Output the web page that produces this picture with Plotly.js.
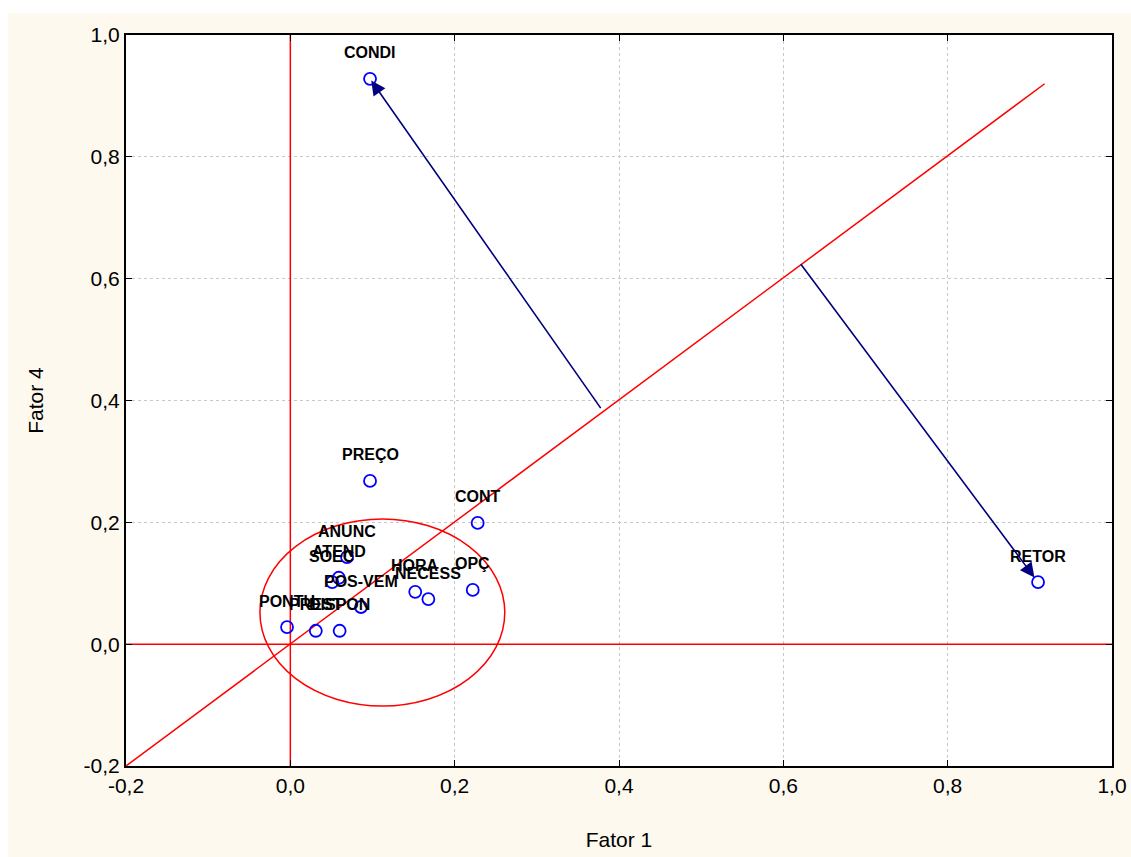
<!DOCTYPE html>
<html>
<head>
<meta charset="utf-8">
<script src="https://cdn.plot.ly/plotly-3.0.1.min.js"></script>
<style>
  html, body { margin: 0; padding: 0; background: #ffffff; }
  #chart { position: absolute; left: 8px; top: 13px; width: 1123px; height: 844px; }
</style>
</head>
<body>
<div id="chart"></div>
<script>
// Variable labels and their loadings (Fator 1, Fator 4)
const labels = ["CONDI", "RETOR", "PREÇO", "CONT", "OPÇ", "HORA", "NECESS",
                "ANUNC", "ATEND", "SOEC", "POS-VEM", "PONTU", "PREST", "DISPON"];
const fator1 = [0.097, 0.910, 0.097, 0.228, 0.222, 0.152, 0.168,
                0.069, 0.059, 0.051, 0.086, -0.004, 0.031, 0.060];
const fator4 = [0.928, 0.102, 0.268, 0.199, 0.089, 0.086, 0.074,
                0.143, 0.109, 0.102, 0.061, 0.028, 0.022, 0.022];

// Tick values and labels
const tickVals = [-0.2, 0.0, 0.2, 0.4, 0.6, 0.8, 1.0];
const tickText = ["-0,2", "0,0", "0,2", "0,4", "0,6", "0,8", "1,0"];

// Reference lines
const diagX = [-0.2, 0.918];
const diagY = [-0.2, 0.920];
const vertX = [0, 0];
const vertY = [-0.2, 1.0];
const horzX = [-0.2, 1.0];
const horzY = [0, 0];

// Ellipse bounds (x0, x1, y0, y1)
const ellipseBox = [-0.037, 0.261, -0.1015, 0.2055];

// Arrows: start on the diagonal, end on a variable
const arrowFromX = [0.379, 0.620];
const arrowFromY = [0.385, 0.626];
const arrowToX = [0.097, 0.907];
const arrowToY = [0.928, 0.107];

const red = "#ff0000";
const navy = "#000080";

const traces = [
  {x: vertX, y: vertY, mode: "lines", line: {color: red, width: 1.5}, hoverinfo: "skip", showlegend: false},
  {x: horzX, y: horzY, mode: "lines", line: {color: red, width: 1.5}, hoverinfo: "skip", showlegend: false},
  {x: diagX, y: diagY, mode: "lines", line: {color: red, width: 1.5}, hoverinfo: "skip", showlegend: false},
  {x: fator1, y: fator4, mode: "markers", text: labels,
   marker: {symbol: "circle-open", size: 12, color: "#0000ff", line: {width: 1.8, color: "#0000ff"}},
   showlegend: false}
];

const annotations = labels.map((t, i) => ({
  x: fator1[i], y: fator4[i], xref: "x", yref: "y", text: "<b>" + t + "</b>",
  showarrow: false, yshift: 26,
  font: {family: "Liberation Sans, Arial, sans-serif", size: 16, color: "#000000"}
}));
for (let i = 0; i < arrowFromX.length; i++) {
  annotations.push({
    x: arrowToX[i], y: arrowToY[i], ax: arrowFromX[i], ay: arrowFromY[i],
    xref: "x", yref: "y", axref: "x", ayref: "y", text: "",
    showarrow: true, arrowhead: 2, arrowsize: 1.8, arrowwidth: 1.6, arrowcolor: navy,
    standoff: 2
  });
}

const tickFont = {family: "Liberation Sans Narrow, Arial Narrow, Arial, sans-serif", size: 21, color: "#000000"};
const titleFont = {family: "Liberation Sans Narrow, Arial Narrow, Arial, sans-serif", size: 21, color: "#000000"};
const axisCommon = {
  range: [-0.2, 1.0], tickmode: "array", tickvals: tickVals, ticktext: tickText,
  showline: true, linecolor: "#000000", linewidth: 2, mirror: "ticks",
  ticks: "inside", ticklen: 6, tickwidth: 1, tickcolor: "#000000",
  showgrid: true, gridcolor: "#c8c8c8", griddash: "dot", gridwidth: 1,
  zeroline: false, tickfont: tickFont
};

const layout = {
  width: 1123, height: 844,
  margin: {l: 118, r: 19, t: 22, b: 91},
  paper_bgcolor: "#fdf9ee", plot_bgcolor: "#ffffff",
  xaxis: Object.assign({}, axisCommon, {
    title: {text: "Fator 1", font: titleFont, standoff: 36}
  }),
  yaxis: Object.assign({}, axisCommon, {
    title: {text: "Fator 4", font: titleFont, standoff: 34}
  }),
  shapes: [{
    type: "circle", xref: "x", yref: "y",
    x0: ellipseBox[0], x1: ellipseBox[1], y0: ellipseBox[2], y1: ellipseBox[3],
    line: {color: red, width: 1.5}
  }],
  annotations: annotations
};

Plotly.newPlot("chart", traces, layout, {displayModeBar: false, staticPlot: true});
</script>
</body>
</html>
